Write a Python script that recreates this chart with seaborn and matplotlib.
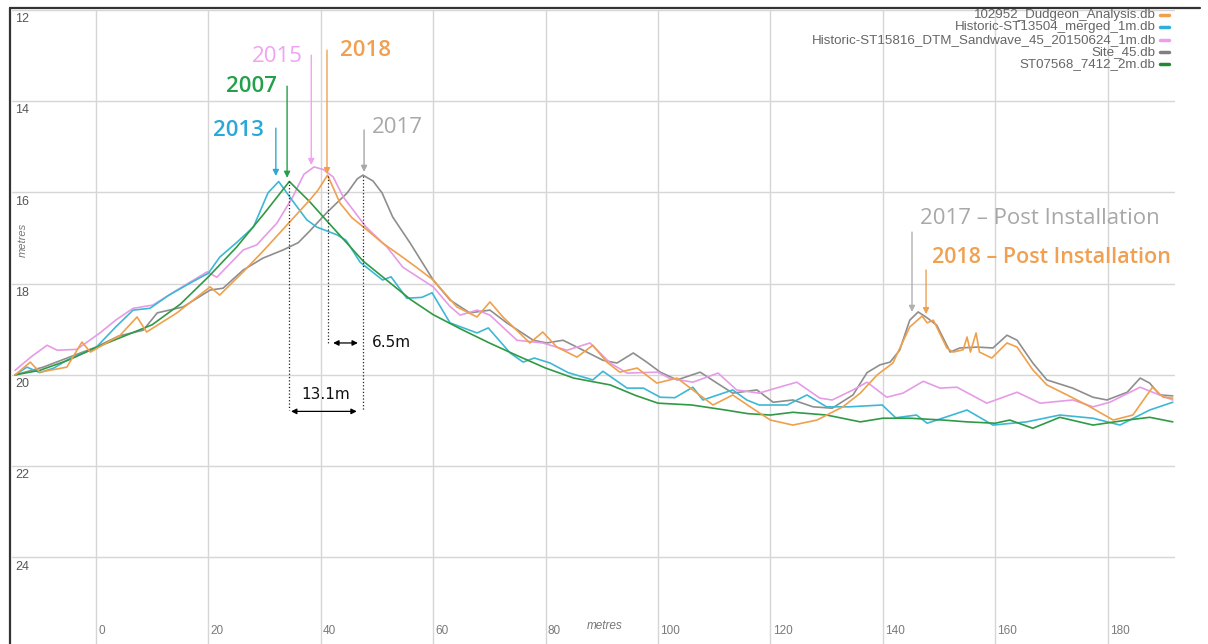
import matplotlib.pyplot as plt
import seaborn as sns
import numpy as np
from matplotlib.lines import Line2D

# profile data: distance along line (m) and seabed depth (m)
dudgeon_x = [-14.4, -11.7, -10, -5.2, -2.5, -1, 4.3, 7.3, 9, 14.4, 20.3, 22, 26.2, 30, 34, 38, 39.5, 41.2,
             43.4, 45.5, 48.2, 51, 54, 57, 60, 64.2, 67.8, 70.1, 72.4, 77.2, 79.5, 82, 85.6, 88.4, 90.9, 93.2,
             96.3, 99.8, 103.4, 106.2, 109.8, 113.3, 116.4, 120, 124, 128.3, 132.9, 136, 139, 141.8, 144.8,
             147, 147.9, 149, 151.4, 152.5, 154.3, 155, 155.6, 156.6, 157.2, 159.4, 162.1, 163.9, 166.7,
             169.2, 172.8, 176.3, 181, 184.5, 188, 189.9, 191.6]
dudgeon_d = [20.0, 19.72, 19.94, 19.83, 19.28, 19.5, 19.13, 18.73, 19.06, 18.64, 18.07, 18.25, 17.74, 17.25,
             16.71, 16.17, 15.95, 15.62, 16.23, 16.55, 16.82, 17.11, 17.37, 17.64, 17.92, 18.51, 18.73, 18.4,
             18.73, 19.3, 19.06, 19.39, 19.61, 19.35, 19.72, 19.94, 19.85, 20.18, 20.07, 20.33, 20.66, 20.44,
             20.7, 20.99, 21.1, 20.99, 20.7, 20.4, 20.0, 19.74, 18.95, 18.71, 18.86, 18.8, 19.41, 19.5, 19.45,
             19.17, 19.5, 19.08, 19.5, 19.63, 19.3, 19.39, 19.89, 20.22, 20.44, 20.66, 20.99, 20.88, 20.27,
             20.49, 20.51]

st13504_x = [-14.4, -12.3, -10, -7.5, -5.2, 0, 3.5, 6.6, 9.6, 13, 16.7, 20, 22, 25, 28, 30.6, 32.5, 34.9,
             37.5, 39.3, 42.9, 44.5, 47, 51, 52.5, 55.3, 58, 59.8, 63, 67.8, 69.8, 73.7, 76, 78, 80.8, 84,
             88.4, 90.2, 94.5, 97.4, 100.4, 103, 106.2, 108, 113.3, 115.8, 118, 123, 126.5, 130, 134, 139.9,
             142.3, 146, 147.9, 155, 159.6, 165.6, 171.5, 177.4, 182.2, 187.5, 191.6]
st13504_d = [20.0, 19.83, 19.95, 19.85, 19.68, 19.4, 18.95, 18.58, 18.54, 18.25, 17.99, 17.77, 17.42, 17.1,
             16.76, 16.01, 15.76, 16.17, 16.6, 16.76, 16.93, 17.05, 17.53, 17.92, 17.85, 18.32, 18.3, 18.2,
             18.86, 19.08, 18.97, 19.52, 19.72, 19.63, 19.74, 19.95, 20.11, 19.92, 20.29, 20.29, 20.49, 20.5,
             20.27, 20.55, 20.33, 20.55, 20.66, 20.66, 20.44, 20.7, 20.7, 20.66, 20.94, 20.88, 21.06, 20.77,
             21.1, 21.03, 20.88, 20.95, 21.1, 20.77, 20.6]

st15816_x = [-14.4, -11.5, -8.7, -6.9, -3.4, 0.7, 3.5, 6.6, 10.1, 14.4, 19.8, 21.5, 26.2, 28.6, 32.2, 35, 37,
             38.8, 40.5, 42.2, 44, 48, 51.8, 54.6, 60, 63, 64.8, 67.8, 70.1, 74.9, 79.5, 83.8, 87.9, 91.5,
             94.5, 100, 102, 106.2, 110.7, 114, 118, 121, 124.7, 128.8, 131, 134.7, 137.2, 140.7, 143.6,
             147.2, 150.2, 153.2, 158.5, 163.9, 168, 173.8, 177.4, 180.4, 185.8, 188, 191.6]
st15816_d = [19.9, 19.6, 19.35, 19.46, 19.44, 19.08, 18.8, 18.54, 18.47, 18.14, 17.74, 17.86, 17.26, 17.15,
             16.67, 16.1, 15.6, 15.44, 15.5, 15.66, 16.1, 16.75, 17.2, 17.64, 18.07, 18.5, 18.69, 18.58, 18.69,
             19.24, 19.3, 19.46, 19.3, 19.74, 19.96, 19.94, 20.07, 20.16, 19.96, 20.33, 20.4, 20.29, 20.16,
             20.51, 20.55, 20.33, 20.16, 20.49, 20.4, 20.14, 20.29, 20.27, 20.62, 20.38, 20.62, 20.55, 20.7,
             20.6, 20.27, 20.38, 20.55]

site45_x = [-14.4, -9.4, -4.5, 0, 4, 8.4, 10.9, 15.5, 20.3, 22.6, 26.2, 29.7, 33.3, 36, 38, 41, 44.7, 46.5,
            47.5, 49.3, 50.9, 52.8, 55.9, 60, 63, 66.5, 70.1, 73.1, 77.8, 80.2, 83.1, 86.7, 90.2, 92.7, 95.6,
            98, 100.4, 103.4, 107.5, 110.5, 113.3, 117.6, 120.5, 124, 127.6, 131, 134.7, 137.2, 139.5, 141.3,
            143, 144.8, 146.3, 147.9, 149.6, 152, 153.7, 156.8, 159.6, 162.1, 163.9, 166.7, 169.2, 173.8,
            177.4, 179.9, 183.5, 185.8, 187.5, 189.3, 191.6]
site45_d = [20.0, 19.83, 19.6, 19.39, 19.15, 19.02, 18.64, 18.51, 18.14, 18.1, 17.7, 17.44, 17.26, 17.1, 16.85,
            16.45, 16.01, 15.7, 15.62, 15.75, 16.01, 16.54, 17.11, 17.92, 18.36, 18.64, 18.58, 18.86, 19.24,
            19.3, 19.24, 19.46, 19.68, 19.74, 19.52, 19.72, 19.94, 20.11, 19.94, 20.18, 20.4, 20.33, 20.6,
            20.55, 20.7, 20.73, 20.44, 19.95, 19.78, 19.72, 19.46, 18.8, 18.62, 18.75, 18.91, 19.5, 19.41,
            19.39, 19.41, 19.13, 19.24, 19.74, 20.11, 20.29, 20.49, 20.55, 20.38, 20.07, 20.18, 20.44, 20.46]

st07568_x = [-14.4, -10, -5, 0, 5, 10, 15, 20, 25, 30, 34.4, 38, 42, 47.5, 52, 56, 60, 65, 70, 75, 80, 85,
             91.5, 96, 100, 106, 112, 116, 120, 124, 130, 136, 140, 144.8, 150.7, 155, 160, 162.6, 166.7,
             171.5, 177.4, 183.5, 187.5, 191.6]
st07568_d = [20.0, 19.9, 19.68, 19.4, 19.15, 18.9, 18.45, 17.85, 17.2, 16.45, 15.76, 16.2, 16.75, 17.5, 17.95,
             18.35, 18.68, 19.0, 19.3, 19.58, 19.85, 20.07, 20.22, 20.45, 20.62, 20.66, 20.77, 20.85, 20.88,
             20.82, 20.88, 21.03, 20.95, 20.95, 20.99, 21.03, 21.06, 20.99, 21.17, 20.93, 21.1, 20.99, 20.93,
             21.03]

legend_names = ["102952_Dudgeon_Analysis.db", "Historic-ST13504_merged_1m.db",
                "Historic-ST15816_DTM_Sandwave_45_20150624_1m.db", "Site_45.db", "ST07568_7412_2m.db"]
line_colors = ["#F0A04B", "#3DB8D4", "#E69BE6", "#8E8E8E", "#2F9A45"]
legend_colors = ["#F0A04B", "#2FB0D8", "#EE9CEE", "#808080", "#1E8A32"]
x_ticks = list(range(0, 181, 20))
y_ticks = list(range(12, 25, 2))

sns.set_theme(style="white")
plt.rcParams['font.family'] = ['Liberation Sans', 'DejaVu Sans']

fig = plt.figure(figsize=(12.08, 6.44), dpi=100)
ax = fig.add_axes([12 / 1208, 0, 1163 / 1208, 634 / 644])

profiles = [
    (site45_x, site45_d, line_colors[3]),
    (st15816_x, st15816_d, line_colors[2]),
    (st13504_x, st13504_d, line_colors[1]),
    (st07568_x, st07568_d, line_colors[4]),
    (dudgeon_x, dudgeon_d, line_colors[0]),
]
for xs, ds, c in profiles:
    sns.lineplot(x=xs, y=ds, ax=ax, color=c, lw=1.2, sort=False, estimator=None)

ax.set_xlim(-14.95, 192)
ax.set_ylim(25.9, 12)
ax.set_xticks(x_ticks)
ax.set_yticks(y_ticks)
ax.grid(True, color="#d6d6d6", lw=1)
ax.tick_params(length=0, labelbottom=False, labelleft=False)
for s in ax.spines.values():
    s.set_visible(False)
ax.set_xlabel("")
ax.set_ylabel("")

# tick labels sit inside the plot area
for t in x_ticks:
    ax.text(t + 0.4, 0.021, str(t), transform=ax.get_xaxis_transform(), ha="left", va="center",
            fontsize=8.5, color="#7a7a7a")
for t in y_ticks:
    ax.text(0.003, t + 0.07, str(t), transform=ax.get_yaxis_transform(), ha="left", va="top",
            fontsize=9, color="#555555")
ax.text(0.0095, 0.637, "metres", transform=ax.transAxes, rotation=90, ha="center", va="center",
        fontsize=8, style="italic", color="#777777")
ax.text(0.51, 0.028, "metres", transform=ax.transAxes, ha="center", va="center",
        fontsize=8.5, style="italic", color="#777777")

# legend: text first, small coloured dash after
legend_y = [0.992, 0.973, 0.953, 0.934, 0.915]
for name, c, yy in zip(legend_names, legend_colors, legend_y):
    ax.text(0.9835, yy, name, transform=ax.transAxes, ha="right", va="center", fontsize=9.6, color="#666666")
    ax.add_line(Line2D([0.987, 0.995], [yy, yy], transform=ax.transAxes, color=c, lw=2.5))

# year labels with arrows pointing at the crests
ann_font = ['Open Sans', 'DejaVu Sans']
year_labels = [
    ("2013", "#2AA8D8", "semibold", 25.3, 14.65, 32.0, 14.59, 15.64),
    ("2007", "#22A04A", "semibold", 27.6, 13.67, 34.0, 13.67, 15.68),
    ("2015", "#F2A2F2", "normal", 32.2, 13.03, 38.3, 12.99, 15.40),
    ("2018", "#F0A050", "semibold", 48.0, 12.88, 41.1, 12.88, 15.60),
    ("2017", "#A8A8A8", "normal", 53.7, 14.57, 47.7, 14.63, 15.55),
]
for txt, c, w, tx, ty, axx, y0, y1 in year_labels:
    ax.text(tx, ty, txt, color=c, fontsize=16, fontweight=w, ha="center", va="center", family=ann_font)
    ax.annotate("", xy=(axx, y1), xytext=(axx, y0),
                arrowprops=dict(arrowstyle="-|>", color=c, lw=1, shrinkA=0, shrinkB=0, mutation_scale=9))

ax.text(146.6, 16.58, "2017 \u2013 Post Installation", color="#A8A8A8", fontsize=16, ha="left", va="center",
        family=ann_font)
ax.annotate("", xy=(145.2, 18.62), xytext=(145.2, 16.87),
            arrowprops=dict(arrowstyle="-|>", color="#B0B0B0", lw=1, shrinkA=0, shrinkB=0, mutation_scale=9))
ax.text(148.8, 17.42, "2018 \u2013 Post Installation", color="#F0A050", fontsize=15.5, fontweight="semibold",
        ha="left", va="center", family=ann_font)
ax.annotate("", xy=(147.7, 18.67), xytext=(147.7, 17.70),
            arrowprops=dict(arrowstyle="-|>", color="#F0A050", lw=1, shrinkA=0, shrinkB=0, mutation_scale=9))

# crest migration measurements
green_peak = st07568_x[int(np.argmin(st07568_d))]
orange_peak = dudgeon_x[int(np.argmin(dudgeon_d))]
gray_peak = site45_x[int(np.argmin(site45_d))]
ax.plot([green_peak, green_peak], [15.75, 20.77], ls=":", color="#222222", lw=0.9)
ax.plot([orange_peak, orange_peak], [15.65, 19.30], ls=":", color="#222222", lw=0.9)
ax.plot([gray_peak, gray_peak], [15.65, 20.77], ls=":", color="#222222", lw=0.9)
ax.annotate("", xy=(gray_peak - 0.9, 19.3), xytext=(orange_peak + 1.0, 19.3),
            arrowprops=dict(arrowstyle="<|-|>", color="black", lw=0.9, shrinkA=0, shrinkB=0, mutation_scale=8))
ax.text(gray_peak + 1.6, 19.3, "6.5m", fontsize=11, ha="left", va="center", color="#111111", family="DejaVu Sans")
ax.annotate("", xy=(gray_peak - 1.1, 20.8), xytext=(green_peak + 0.3, 20.8),
            arrowprops=dict(arrowstyle="<|-|>", color="black", lw=0.9, shrinkA=0, shrinkB=0, mutation_scale=8))
ax.text((green_peak + gray_peak) / 2, 20.44, "13.1m", fontsize=11, ha="center", va="center", color="#111111",
        family="DejaVu Sans")

# outer frame on the top and left edges
fig.add_artist(Line2D([10 / 1208, 1200 / 1208], [1 - 8 / 644, 1 - 8 / 644], transform=fig.transFigure,
                      color="#333333", lw=1.6))
fig.add_artist(Line2D([10 / 1208, 10 / 1208], [0, 1 - 8 / 644], transform=fig.transFigure,
                      color="#333333", lw=1.6))

fig.savefig("out.png", dpi=100)
